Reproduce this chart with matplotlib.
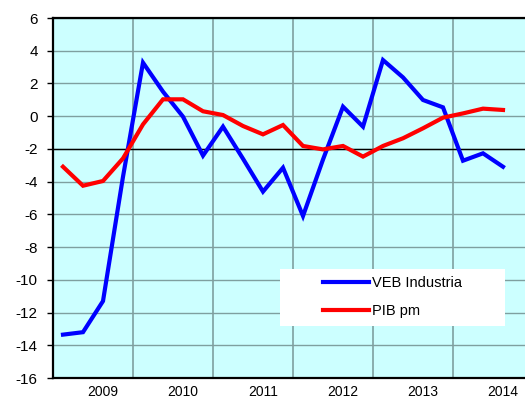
import matplotlib
matplotlib.use('Agg')
import matplotlib.pyplot as plt
from matplotlib.patches import Rectangle
import numpy as np

plt.rcParams['font.family'] = ['Liberation Sans', 'DejaVu Sans']
plt.rcParams['axes.unicode_minus'] = False

#### data: quarterly, 2009Q1 .. 2014Q3
years = ['2009', '2010', '2011', '2012', '2013', '2014']
veb_industria = [-13.35, -13.2, -11.3, -3.7, 3.27, 1.5, -0.03, -2.41, -0.64, -2.6, -4.61, -3.15,
                 -6.1, -2.65, 0.58, -0.64, 3.43, 2.37, 0.99, 0.54, -2.72, -2.27, -3.09]
pib_pm = [-3.09, -4.25, -3.96, -2.58, -0.5, 1.03, 1.03, 0.3, 0.07, -0.6, -1.11, -0.54,
          -1.82, -2.03, -1.82, -2.47, -1.82, -1.35, -0.74, -0.09, 0.17, 0.46, 0.38]

x = np.arange(len(veb_industria))

fig = plt.figure(figsize=(5.25, 4.01), dpi=100)
ax = fig.add_axes([53/525, 23/401, 480/525, 360/401])
ax.set_facecolor('#ccffff')

ax.plot(x, veb_industria, color='#0000ff', lw=3, label='VEB Industria', zorder=3, solid_joinstyle='miter')
ax.plot(x, pib_pm, color='#ff0000', lw=3, label='PIB pm', zorder=3, solid_joinstyle='miter')
ax.axhline(-2, color='black', lw=1, zorder=2)

ax.set_xlim(-0.5, 23.5)
ax.set_ylim(-16, 6)
ax.set_yticks(np.arange(-16, 7, 2))
ax.set_xticks([2 + 4*i for i in range(len(years))])
ax.set_xticklabels(years)
ax.set_xticks([3.5 + 4*i for i in range(5)], minor=True)
ax.tick_params(axis='x', which='both', length=0, pad=5, labelsize=10)
ax.tick_params(axis='y', length=4, width=1, pad=7, labelsize=11)

ax.grid(axis='y', which='major', color='#7f9f9f', lw=1, zorder=1)
ax.grid(axis='x', which='minor', color='#7f9f9f', lw=1.2, zorder=1)
ax.grid(axis='x', which='major', visible=False)

for s in ['left', 'top', 'bottom']:
    ax.spines[s].set_linewidth(1.6)
ax.spines['right'].set_visible(False)

# legend box
ax.add_patch(Rectangle((227/480, 52/360), 225/480, 57/360, transform=ax.transAxes,
                       facecolor='white', edgecolor='none', zorder=4))
leg = ax.legend(loc='center', bbox_to_anchor=(339.5/480, 81/360), frameon=False,
                fontsize=10.5, handlelength=3.2, handletextpad=0.2, labelspacing=0.95)
leg.set_zorder(5)

fig.savefig('out.png', dpi=100)
